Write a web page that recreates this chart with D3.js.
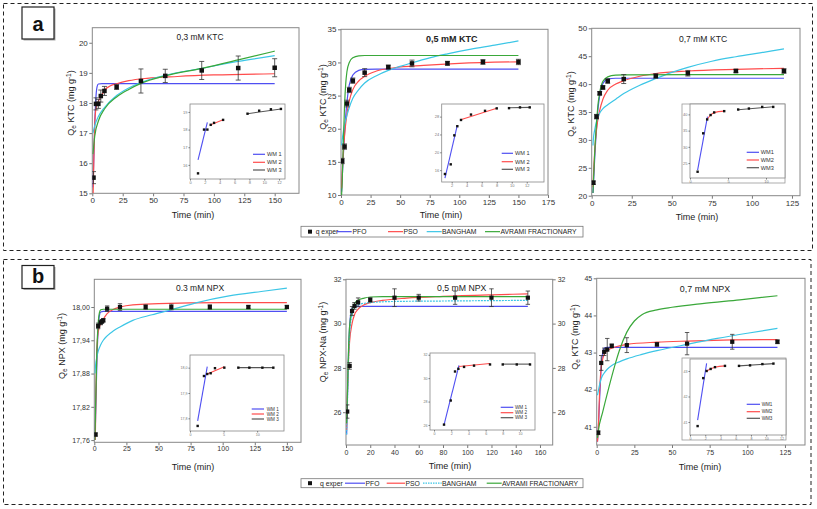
<!DOCTYPE html>
<html><head><meta charset="utf-8">
<script src="https://cdn.jsdelivr.net/npm/d3@7"></script>
<style>body{margin:0;background:#fff}svg{display:block}text{font-family:"Liberation Sans",Arial,sans-serif}</style>
</head><body><svg id="c" width="817" height="509"></svg>
<script>
// ---------------- DATA ----------------
const seriesNames = ["q exper","PFO","PSO","BANGHAM","AVRAMI FRACTIONARY"];
const wmNamesSpaced = ["WM 1","WM 2","WM 3"];
const wmNames = ["WM1","WM2","WM3"];

// a1: 0,3 mM KTC
const timeA1 = [1,3,5,7,10,20,40,60,90,120,150];
const qA1 = [15.52,17.97,17.97,18.23,18.4,18.53,18.73,18.9,19.08,19.16,19.17];
const errA1 = [0.2,0.2,0.15,0.2,0.15,0.08,0.4,0.22,0.3,0.4,0.3];
const pfoA1 = [[0.5,15.2],[1,15.8],[2,17.3],[3,18.2],[4,18.55],[5,18.63],[8,18.64],[150,18.64]];
const psoA1 = [[0.7,15.0],[1,15.6],[2,17.3],[3,17.8],[5,18.05],[7,18.2],[10,18.42],[15,18.57],[20,18.64],[30,18.74],[45,18.82],[70,18.88],[100,18.93],[150,18.97]];
const bangA1 = [[0.5,17.0],[2,17.25],[5,17.55],[10,17.85],[20,18.25],[30,18.5],[40,18.68],[60,18.92],[90,19.15],[120,19.38],[150,19.57]];
const avrA1 = [[0.5,16.3],[1,16.5],[2,16.9],[5,17.4],[10,17.8],[20,18.2],[30,18.45],[40,18.65],[60,18.9],[90,19.15],[120,19.43],[150,19.72]];
const xTicksA1 = [0,25,50,75,100,125,150];
const yTicksA1 = [15,16,17,18,19,20];

// a2: 0,5 mM KTC
const timeA2 = [1,3,5,7,10,20,40,60,90,120,150];
const qA2 = [15.13,17.3,23.8,25.85,27.25,28.46,29.3,29.85,29.87,30.07,30.07];
const errA2 = [0.4,0.4,0.5,0.4,0.4,0.6,0.3,0.5,0.3,0.35,0.4];
const pfoA2 = [[0.5,10.5],[1,12.5],[2,16],[3,19.3],[5,24],[7,26.6],[10,28.1],[15,28.8],[20,28.95],[30,29.0],[150,29.0]];
const psoA2 = [[0.5,11],[1,13.2],[2,16.5],[3,19],[5,22.2],[7,24.2],[10,25.9],[15,27.2],[20,27.9],[30,28.7],[45,29.2],[70,29.55],[100,29.85],[150,30.1]];
const bangA2 = [[0.5,17.5],[1,18.3],[2,19.6],[3,20.6],[5,22],[7,23.2],[10,24.6],[15,25.9],[20,26.9],[30,28.0],[40,28.8],[50,29.4],[60,29.95],[75,30.7],[90,31.3],[110,32.0],[130,32.6],[150,33.25]];
const avrA2 = [[0.5,10],[1,12],[2,18],[3,23.5],[4,26.8],[5,28.6],[7,30.0],[10,30.7],[15,31.0],[20,31.05],[150,31.05]];
const xTicksA2 = [0,25,50,75,100,125,150,175];
const yTicksA2 = [10,15,20,25,30,35];

// a3: 0,7 mM KTC
const timeA3 = [1,3,5,7,10,20,40,60,90,120];
const qA3 = [22.33,34.17,38.35,39.4,40.55,40.9,41.45,41.95,42.35,42.35];
const errA3 = [0.3,0.4,0.3,0.3,0.4,0.8,0.4,0.5,0.3,0.4];
const pfoA3 = [[0.8,20.5],[1,21.5],[2,27.5],[3,32.2],[4,35.8],[5,37.9],[7,40.1],[10,40.9],[15,41.05],[120,41.05]];
const psoA3 = [[0.8,21.5],[1,23],[2,28.5],[3,31.8],[5,35.3],[7,37.3],[10,38.9],[15,40.0],[20,40.6],[30,41.4],[40,41.9],[60,42.35],[90,42.65],[120,42.83]];
const bangA3 = [[0.8,29],[1,30],[2,32],[3,33.3],[5,34.8],[7,35.6],[10,36.3],[15,37.3],[20,38.3],[30,39.8],[40,41.0],[50,42.1],[60,43.0],[75,44.1],[90,44.9],[105,45.6],[120,46.3]];
const avrA3 = [[0.8,20.5],[1,22],[2,28.5],[3,33],[4,36.5],[5,38.5],[7,40.5],[10,41.3],[15,41.6],[20,41.65],[120,41.7]];
const xTicksA3 = [0,25,50,75,100,125];
const yTicksA3 = [20,25,30,35,40,45,50];

// b1: 0.3 mM NPX
const timeB1 = [1,3,5,6,7,10,20,40,60,90,120,150];
const qB1 = [17.770,17.966,17.972,17.974,17.976,17.997,18.0,18.0,18.0,18.0,18.0,18.0];
const errB1 = [0.003,0.005,0.004,0.003,0.003,0.005,0.006,0.004,0.005,0.004,0.003,0.003];
const pfoB1 = [[0.5,17.76],[1,17.80],[2,17.90],[3,17.96],[4,17.985],[5,17.991],[7,17.992],[150,17.992]];
const psoB1 = [[0.8,17.76],[1,17.80],[2,17.92],[3,17.955],[5,17.97],[7,17.978],[10,17.988],[15,17.996],[20,18.0],[30,18.004],[50,18.006],[100,18.008],[150,18.008]];
const bangB1 = [[0.5,17.88],[1,17.895],[2,17.91],[3,17.92],[5,17.932],[7,17.94],[10,17.948],[15,17.957],[20,17.964],[30,17.976],[45,17.986],[60,17.995],[80,18.008],[105,18.02],[130,18.028],[150,18.034]];
const avrB1 = [[0.5,17.76],[1,17.82],[2,17.92],[3,17.97],[4,17.99],[5,17.995],[7,17.996],[150,17.996]];
const xTicksB1 = [0,25,50,75,100,125,150];
const yTicksB1 = [17.76,17.82,17.88,17.94,18.00];

// b2: 0,5 mM NPX
const timeB2 = [1,3,5,7,10,20,40,60,90,120,150];
const qB2 = [26.03,28.09,30.57,30.8,30.96,31.07,31.17,31.17,31.17,31.17,31.17];
const errB2 = [0.3,0.15,0.2,0.15,0.2,0.1,0.4,0.15,0.3,0.4,0.3];
const pfoB2 = [[0.5,25],[1,26.2],[2,28.5],[3,29.9],[4,30.5],[5,30.7],[7,30.78],[150,30.78]];
const psoB2 = [[0.5,25.2],[1,26.5],[2,28.3],[3,29.2],[5,30.0],[7,30.4],[10,30.65],[15,30.85],[20,30.95],[30,31.05],[50,31.15],[80,31.23],[120,31.3],[150,31.34]];
const bangB2 = [[0.5,25.0],[1,26.0],[2,28.2],[3,29.5],[5,30.4],[7,30.7],[10,30.85],[20,30.95],[40,31.0],[80,31.02],[150,31.05]];
const avrB2 = [[0.5,25.5],[1,26.5],[2,28.7],[3,29.9],[5,30.6],[7,30.9],[10,31.05],[15,31.15],[20,31.2],[30,31.22],[150,31.22]];
const xTicksB2 = [0,20,40,60,80,100,120,140,160];
const yTicksB2 = [26,28,30,32];

// b3: 0,7 mM NPX
const timeB3 = [1,3,5,7,10,20,40,60,90,120];
const qB3 = [40.84,42.72,43.02,43.08,43.18,43.2,43.22,43.24,43.29,43.29];
const errB3 = [0.05,0.2,0.1,0.3,0.05,0.2,0.05,0.3,0.2,0.05];
const pfoB3 = [[0.5,40.6],[1,40.9],[2,41.8],[3,42.6],[4,43.0],[5,43.12],[7,43.14],[120,43.14]];
const psoB3 = [[0.5,40.6],[1,40.9],[2,42.0],[3,42.6],[5,42.95],[7,43.05],[10,43.12],[15,43.18],[20,43.22],[40,43.28],[60,43.31],[90,43.34],[120,43.35]];
const bangB3 = [[0.5,41.85],[1,41.95],[2,42.15],[3,42.3],[5,42.45],[7,42.55],[10,42.65],[15,42.75],[20,42.83],[30,42.95],[40,43.05],[60,43.22],[80,43.38],[100,43.52],[120,43.65]];
const avrB3 = [[0.5,40.7],[1,40.87],[4,41.4],[8,42.05],[12,42.65],[15,43.05],[20,43.55],[25,43.85],[30,44.02],[40,44.15],[50,44.22],[70,44.32],[95,44.42],[120,44.53]];
const xTicksB3 = [0,25,50,75,100,125];
const yTicksB3 = [41,42,43,44,45];

// insets (Weber–Morris: q vs t^0.5)
const rootA1 = [1.08,1.89,2.34,2.79,3.24,4.46,7.75,9.32,10.9,12.25];
const insQA1 = [15.52,18.0,18.0,18.27,18.38,18.55,18.9,19.07,19.15,19.17];
const wm1A1 = [[1.08,16.28],[2.34,18.41]], wm2A1 = [[2.79,18.27],[4.46,18.56]], wm3A1 = [[7.75,18.9],[12.25,19.17]];
const insXTA1 = [0,2,4,6,8,10,12], insYTA1 = [16,17,18,19];

const rootA2 = [1.1,1.87,2.35,2.75,3.24,4.57,6.44,8.0,9.64,11.1,12.4];
const insQA2 = [15.13,17.3,23.8,25.85,27.25,28.46,29.3,29.85,29.9,30.07,30.07];
const wm1A2 = [[1.1,14.2],[2.75,26.1]], wm2A2 = [[3.2,27.3],[8.0,29.86]], wm3A2 = [[9.64,30.0],[12.4,30.07]];
const insXTA2 = [2,4,6,8,10,12], insYTA2 = [16,20,24,28];

const rootA3 = [1.0,1.74,2.26,2.71,3.18,4.5,6.34,7.75,9.5,10.95];
const insQA3 = [22.33,34.17,38.45,39.8,40.6,41.0,41.5,41.8,42.3,42.3];
const wm1A3 = [[1.0,22.8],[2.3,39.3]], wm2A3 = [[2.26,38.5],[2.71,39.8],[3.18,40.55],[4.5,41.0]], wm3A3 = [[6.34,41.45],[10.95,42.35]];
const insXTA3 = [0,5,10], insYTA3 = [25,30,35,40];

const rootB1 = [1.14,2.08,2.57,3.08,3.72,5.11,7.2,8.84,10.78,12.41];
const insQB1 = [17.77,17.967,17.975,17.978,17.998,18.0,18.0,18.0,18.0,18.0];
const wm1B1 = [[1.14,17.79],[2.57,18.004]], wm2B1 = [[2.57,17.975],[5.11,18.004]], wm3B1 = [[7.2,18.0],[12.41,18.0]];
const insXTB1 = [0,5,10], insYTB1 = [17.8,17.9,18.0];

const rootB2 = [1.16,1.94,2.44,2.83,3.49,4.65,6.51,7.99,9.62,11.16];
const insQB2 = [26.03,28.09,30.57,30.8,30.96,31.07,31.17,31.17,31.17,31.17];
const wm1B2 = [[1.16,26.0],[2.9,31.1]], wm2B2 = [[2.9,31.0],[6.5,31.25]], wm3B2 = [[7.99,31.2],[11.16,31.2]];
const insXTB2 = [0,2,4,6,8,10], insYTB2 = [26,28,30,32];

const rootB3 = [1.0,1.74,2.18,2.71,3.28,4.59,6.43,7.88,9.5,10.95];
const insQB3 = [40.84,42.72,43.0,43.08,43.15,43.2,43.2,43.22,43.27,43.29];
const wm1B3 = [[1.0,41.07],[2.18,43.3]], wm2B3 = [[2.18,43.0],[2.71,43.08],[3.28,43.15],[4.59,43.2]], wm3B3 = [[6.43,43.2],[10.95,43.29]];
const insXTB3 = [0,2,4,6,8,10,12], insYTB3 = [41,42,43];

// ---------------- STYLE ----------------
const COL = {pfo:"#4f4ff2", pso:"#ff4c4c", bang:"#3cc6e6", avr:"#3aa83a", wm3:"#555"};
const svg = d3.select("#c");
const comma = f => d => d3.format(f)(d).replace(".", ",");

// outer dashed frames and letters
svg.append("rect").attr("x",3.5).attr("y",3.5).attr("width",809).attr("height",247)
  .attr("fill","none").attr("stroke","#222").attr("stroke-dasharray","4,3");
svg.append("rect").attr("x",3.5).attr("y",259.5).attr("width",807.5).attr("height",245)
  .attr("fill","none").attr("stroke","#222").attr("stroke-dasharray","4,3");
[["a",22,7,32,32,30.5],["b",22,265.5,32,23,283]].forEach(([t,x,y,w,h,by])=>{
  svg.append("rect").attr("x",x+1.5).attr("y",y+1.5).attr("width",w).attr("height",h).attr("fill","#aaa");
  svg.append("rect").attr("x",x).attr("y",y).attr("width",w).attr("height",h).attr("fill","#fff").attr("stroke","#222").attr("stroke-width",1.2);
  svg.append("text").attr("x",x+w/2).attr("y",by).attr("text-anchor","middle").attr("font-size","20px").attr("font-weight","bold").attr("fill","#111").text(t);
});

let clipId = 0;
function styleAxis(g, fs){
  g.attr("font-family","Liberation Sans, Arial, sans-serif").attr("font-size",fs);
  g.select(".domain").remove();
  g.selectAll(".tick line").attr("stroke","#777");
  g.selectAll(".tick text").attr("fill","#333");
}

function drawInset(s){
  const g = svg.append("g");
  if (s.outer) g.append("rect").attr("x",s.outer[0]).attr("y",s.outer[1]).attr("width",s.outer[2]-s.outer[0]).attr("height",s.outer[3]-s.outer[1]).attr("fill","#fff").attr("stroke","#999").attr("stroke-width",0.8);
  const x = d3.scaleLinear().domain(s.xDomain).range([s.left, s.right]);
  const y = d3.scaleLinear().domain(s.yDomain).range([s.bottom, s.top]);
  g.append("rect").attr("x",s.left).attr("y",s.top).attr("width",s.right-s.left).attr("height",s.bottom-s.top).attr("fill","#fff").attr("stroke","#888").attr("stroke-width",0.8);
  const xa = g.append("g").attr("transform",`translate(0,${s.bottom})`).call(d3.axisBottom(x).tickValues(s.xTicks).tickSize(1.5).tickPadding(1).tickFormat(d3.format("d")));
  styleAxis(xa, s.tfs); xa.selectAll(".tick text").attr("fill","#777");
  const ya = g.append("g").attr("transform",`translate(${s.left},0)`).call(d3.axisLeft(y).tickValues(s.yTicks).tickSize(1.5).tickPadding(1).tickFormat(s.yFmt));
  styleAxis(ya, s.tfs); ya.selectAll(".tick text").attr("fill","#777");
  const line = d3.line().x(d=>x(d[0])).y(d=>y(d[1])).curve(d3.curveMonotoneX);
  [[s.wm1,COL.pfo],[s.wm2,COL.pso],[s.wm3,COL.wm3]].forEach(([d,c])=>{
    g.append("path").attr("d",line(d)).attr("fill","none").attr("stroke",c).attr("stroke-width",1.1);
  });
  s.rx.forEach((r,i)=>{
    g.append("rect").attr("x",x(r)-1.2).attr("y",y(s.q[i])-1.2).attr("width",2.4).attr("height",2.4).attr("fill","#111");
  });
  [COL.pfo,COL.pso,COL.wm3].forEach((c,i)=>{
    const ry = s.leg.rows[i];
    g.append("line").attr("x1",s.leg.x1).attr("x2",s.leg.x2).attr("y1",ry).attr("y2",ry).attr("stroke",c).attr("stroke-width",1.2);
    g.append("text").attr("x",s.leg.tx).attr("y",ry+s.leg.fs*0.35).attr("font-size",s.leg.fs+"px").attr("fill","#333").text(s.names[i]);
  });
}

function drawPanel(p){
  const x = d3.scaleLinear().domain(p.xDomain).range([p.left, p.right]);
  const y = d3.scaleLinear().domain(p.yDomain).range([p.bottom, p.top]);
  const g = svg.append("g");
  const id = "clip"+(clipId++);
  g.append("clipPath").attr("id",id).append("rect").attr("x",p.left).attr("y",p.top).attr("width",p.right-p.left).attr("height",p.bottom-p.top);
  const xa = g.append("g").attr("transform",`translate(0,${p.bottom})`).call(d3.axisBottom(x).tickValues(p.xTicks).tickSize(3).tickPadding(p.xPad).tickFormat(d3.format("d")));
  styleAxis(xa, p.fs);
  const ya = g.append("g").attr("transform",`translate(${p.left},0)`).call(d3.axisLeft(y).tickValues(p.yTicks).tickSize(3).tickPadding(1.5).tickFormat(p.yFmt));
  styleAxis(ya, p.fs);
  if (p.rightAxis){
    const ra = g.append("g").attr("transform",`translate(${p.right},0)`).call(d3.axisRight(y).tickValues(p.yTicks).tickSize(3).tickPadding(2).tickFormat(p.yFmt));
    styleAxis(ra, p.fs);
  }
  g.append("rect").attr("x",p.left).attr("y",p.top).attr("width",p.right-p.left).attr("height",p.bottom-p.top).attr("fill","none").attr("stroke","#888").attr("stroke-width",1);
  // title & labels
  g.append("text").attr("x",p.titleX).attr("y",p.titleY).attr("text-anchor","middle").attr("font-size",p.titleSize+"px")
    .attr("font-weight",p.titleBold?"bold":"normal").attr("fill","#222").text(p.title);
  g.append("text").attr("x",p.xlabX).attr("y",p.xlabY).attr("text-anchor","middle").attr("font-size","9px").attr("fill","#222").text("Time (min)");
  const yl = g.append("text").attr("transform",`translate(${p.ylabX},${p.ylabY}) rotate(-90)`).attr("text-anchor","middle").attr("font-size","9px").attr("fill","#222");
  yl.append("tspan").text("Q");
  yl.append("tspan").attr("dy",2).attr("font-size","6.5px").text("e");
  yl.append("tspan").attr("dy",-2).text(" "+p.compound+" (mg g");
  yl.append("tspan").attr("dy",-3).attr("font-size","6.5px").text("-1");
  yl.append("tspan").attr("dy",3).text(")");
  // curves
  const line = d3.line().x(d=>x(d[0])).y(d=>y(d[1])).curve(d3.curveMonotoneX);
  const cg = g.append("g").attr("clip-path",`url(#${id})`);
  [[p.curves[0],COL.pfo,null],[p.curves[1],COL.pso,null],[p.curves[2],COL.bang,p.bangDash||null],[p.curves[3],COL.avr,null]].forEach(([d,c,dash])=>{
    cg.append("path").attr("d",line(d)).attr("fill","none").attr("stroke",c).attr("stroke-width",1.2).attr("stroke-dasharray",dash);
  });
  // error bars and points
  const cap = p.cap;
  p.t.forEach((t,i)=>{
    const cx = x(t), y1 = y(p.q[i]-p.e[i]), y2 = y(p.q[i]+p.e[i]);
    cg.append("line").attr("x1",cx).attr("x2",cx).attr("y1",y1).attr("y2",y2).attr("stroke","#333").attr("stroke-width",0.8);
    [y1,y2].forEach(yy=>cg.append("line").attr("x1",cx-cap).attr("x2",cx+cap).attr("y1",yy).attr("y2",yy).attr("stroke","#333").attr("stroke-width",0.8));
  });
  p.t.forEach((t,i)=>{
    cg.append("rect").attr("x",x(t)-p.ms/2).attr("y",y(p.q[i])-p.ms/2).attr("width",p.ms).attr("height",p.ms).attr("fill","#111");
  });
  drawInset(p.inset);
}

function drawLegend(L){
  const g = svg.append("g");
  g.append("rect").attr("x",L.x0).attr("y",L.y0).attr("width",L.x1-L.x0).attr("height",L.y1-L.y0).attr("fill","#fff").attr("stroke","#777").attr("stroke-width",0.8);
  const cy = (L.y0+L.y1)/2;
  g.append("rect").attr("x",L.sq-2).attr("y",cy-2).attr("width",4).attr("height",4).attr("fill","#111");
  g.append("text").attr("x",L.texts[0]).attr("y",cy+2.4).attr("font-size","6.8px").attr("fill","#222").text(seriesNames[0]);
  [COL.pfo,COL.pso,COL.bang,COL.avr].forEach((c,i)=>{
    g.append("line").attr("x1",L.lines[i][0]).attr("x2",L.lines[i][1]).attr("y1",cy).attr("y2",cy).attr("stroke",c).attr("stroke-width",1.2)
      .attr("stroke-dasharray", (i===2 && L.bangDash) ? L.bangDash : null);
    g.append("text").attr("x",L.texts[i+1]).attr("y",cy+2.4).attr("font-size","6.8px").attr("fill","#222").text(seriesNames[i+1]);
  });
}

// ---------------- PANELS ----------------
const intFmt = d3.format("d");
drawPanel({left:92.3,right:299,top:27.7,bottom:193.3,xDomain:[0,170],yDomain:[15,20.5],xTicks:xTicksA1,yTicks:yTicksA1,yFmt:intFmt,fs:8,xPad:1.5,
  title:"0,3 mM KTC",titleX:200,titleY:39.7,titleSize:8.4,xlabX:193,xlabY:217.5,ylabX:74,ylabY:103,compound:"KTC",
  t:timeA1,q:qA1,e:errA1,curves:[pfoA1,psoA1,bangA1,avrA1],cap:2.5,ms:4.5,
  inset:{left:190,right:285,top:104,bottom:179,xDomain:[0,12.8],yDomain:[15.2,19.45],xTicks:insXTA1,yTicks:insYTA1,yFmt:intFmt,tfs:4,
    rx:rootA1,q:insQA1,wm1:wm1A1,wm2:wm2A1,wm3:wm3A1,names:wmNamesSpaced,leg:{x1:253,x2:265,tx:267,rows:[154.3,162.3,170],fs:5.6}}});

drawPanel({left:341,right:548,top:29.3,bottom:195,xDomain:[0,175],yDomain:[10,35],xTicks:xTicksA2,yTicks:yTicksA2,yFmt:intFmt,fs:8,xPad:1.5,
  title:"0,5 mM KTC",titleX:451.7,titleY:42.3,titleSize:9,titleBold:true,xlabX:441,xlabY:217.5,ylabX:325.5,ylabY:97,compound:"KTC",
  t:timeA2,q:qA2,e:errA2,curves:[pfoA2,psoA2,bangA2,avrA2],cap:2.5,ms:4.5,
  inset:{left:441.7,right:544,top:104,bottom:182,xDomain:[0.667,14.3],yDomain:[13.34,30.83],xTicks:insXTA2,yTicks:insYTA2,yFmt:intFmt,tfs:4,
    rx:rootA2,q:insQA2,wm1:wm1A2,wm2:wm2A2,wm3:wm3A2,names:wmNamesSpaced,leg:{x1:501.7,x2:513,tx:515,rows:[153.3,161.7,169.3],fs:5.6}}});

drawPanel({left:591.7,right:800,top:28.3,bottom:195.7,xDomain:[0,130],yDomain:[20,50],xTicks:xTicksA3,yTicks:yTicksA3,yFmt:intFmt,fs:8,xPad:1.5,
  title:"0,7 mM KTC",titleX:703,titleY:42,titleSize:8.6,xlabX:697,xlabY:219.5,ylabX:574,ylabY:104,compound:"KTC",
  t:timeA3,q:qA3,e:errA3,curves:[pfoA3,psoA3,bangA3,avrA3],cap:2.5,ms:4.5,
  inset:{outer:[682,104,785,183],left:690,right:785,top:104,bottom:178,xDomain:[0,12.5],yDomain:[20.4,43.2],xTicks:insXTA3,yTicks:insYTA3,yFmt:intFmt,tfs:4,
    rx:rootA3,q:insQA3,wm1:wm1A3,wm2:wm2A3,wm3:wm3A3,names:wmNames,leg:{x1:746.7,x2:759,tx:760.7,rows:[152.3,160,167.7],fs:5.6}}});

drawPanel({left:94.3,right:301,top:279.3,bottom:442.3,xDomain:[0,161],yDomain:[17.756,18.05],xTicks:xTicksB1,yTicks:yTicksB1,yFmt:comma(".2f"),fs:7,xPad:0.5,
  title:"0.3 mM NPX",titleX:200,titleY:291,titleSize:8.5,xlabX:193,xlabY:469.5,ylabX:65,ylabY:346,compound:"NPX",
  t:timeB1,q:qB1,e:errB1,curves:[pfoB1,psoB1,bangB1,avrB1],cap:2.2,ms:4.2,
  inset:{left:190,right:284,top:355,bottom:431,xDomain:[0,14],yDomain:[17.75,18.05],xTicks:insXTB1,yTicks:insYTB1,yFmt:comma(".1f"),tfs:3.6,
    rx:rootB1,q:insQB1,wm1:wm1B1,wm2:wm2B1,wm3:wm3B1,names:wmNamesSpaced,leg:{x1:251.7,x2:264,tx:266.7,rows:[409,414,419],fs:4.6}}});

drawPanel({left:346,right:552.7,top:279.3,bottom:445,xDomain:[0,170.5],yDomain:[24.52,32],xTicks:xTicksB2,yTicks:yTicksB2,yFmt:intFmt,fs:7,xPad:2,rightAxis:true,
  title:"0,5 mM NPX",titleX:461.7,titleY:291,titleSize:8.7,xlabX:450,xlabY:469,ylabX:325.5,ylabY:342,compound:"NPX-Na",
  t:timeB2,q:qB2,e:errB2,curves:[pfoB2,psoB2,bangB2,avrB2],cap:2.2,ms:4.2,bangDash:"2,1",
  inset:{left:430,right:535,top:353,bottom:430,xDomain:[-0.47,11.74],yDomain:[25.57,32.15],xTicks:insXTB2,yTicks:insYTB2,yFmt:intFmt,tfs:3.6,
    rx:rootB2,q:insQB2,wm1:wm1B2,wm2:wm2B2,wm3:wm3B2,names:wmNamesSpaced,leg:{x1:500.7,x2:513.3,tx:515,rows:[407.3,412.7,417.7],fs:4.6}}});

drawPanel({left:596.7,right:805,top:278.3,bottom:445,xDomain:[0,138.3],yDomain:[40.51,45],xTicks:xTicksB3,yTicks:yTicksB3,yFmt:intFmt,fs:7,xPad:2,
  title:"0,7 mM NPX",titleX:705,titleY:291.5,titleSize:8.9,xlabX:700,xlabY:469.5,ylabX:577.5,ylabY:337,compound:"KTC",
  t:timeB3,q:qB3,e:errB3,curves:[pfoB3,psoB3,bangB3,avrB3],cap:2.2,ms:4.2,
  inset:{outer:[682,358,786,440],left:690,right:786,top:359,bottom:435,xDomain:[0,12.6],yDomain:[40.49,43.47],xTicks:insXTB3,yTicks:insYTB3,yFmt:intFmt,tfs:3.6,
    rx:rootB3,q:insQB3,wm1:wm1B3,wm2:wm2B3,wm3:wm3B3,names:wmNames,leg:{x1:746.7,x2:760,tx:761.7,rows:[404.3,411.7,418.3],fs:4.6}}});

drawLegend({x0:301,x1:583,y0:226.3,y1:237,sq:310,texts:[315.7,352.5,403.5,442,500.5],lines:[[336.7,351.7],[388,403],[426.7,441.7],[485,500]]});
drawLegend({x0:301,x1:583,y0:478.7,y1:487.7,sq:310,texts:[320,365.5,405.5,442,502],lines:[[345,365],[386.7,405],[423,441.7],[486.7,501.7]],bangDash:"1.5,1"});
</script></body></html>
